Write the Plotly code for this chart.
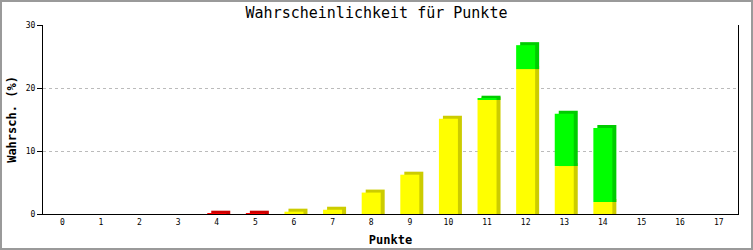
import plotly.graph_objects as go

categories = list(range(18))
tick_labels = [str(c) for c in categories]
yellow_vals = [0, 0, 0, 0, 0, 0, 0.37, 0.68, 3.4, 6.24, 15.1, 18.1, 23.0, 7.6, 1.9, 0, 0, 0]
green_vals = [0, 0, 0, 0, 0, 0, 0, 0, 0, 0, 0, 0.2, 3.8, 8.3, 11.75, 0, 0, 0]
red_vals = [0, 0, 0, 0, 0.05, 0.05, 0, 0, 0, 0, 0, 0, 0, 0, 0, 0, 0, 0]

W, H = 753, 250
ML, MR, MT, MB = 43, 15, 25, 36
pw = W - ML - MR
ph = H - MT - MB
xr = (-0.5, 17.5)
yr = (0, 30)
ux = pw / (xr[1] - xr[0])
uy = ph / (yr[1] - yr[0])
bw = 19 / ux
dx = 4 / ux
dy = 3 / uy

series = [
    ("Gelb", yellow_vals, "#ffff00", "#cccc00"),
    ("Grün", green_vals, "#00ff00", "#00cc00"),
    ("Rot", red_vals, "#ff0000", "#cc0000"),
]

fig = go.Figure()
base = [0.0] * len(categories)
bases = []
for name, vals, c, dc in series:
    bases.append(list(base))
    base = [b + v for b, v in zip(base, vals)]

# back (shaded) faces
for (name, vals, c, dc), bs in zip(series, bases):
    xs = [x for x, v in zip(categories, vals) if v > 0]
    ys = [v + dy for v in vals if v > 0]
    bb = [b for b, v in zip(bs, vals) if v > 0]
    fig.add_trace(go.Bar(x=xs, y=ys, base=bb, width=bw, offset=-bw / 2 + dx,
                         marker=dict(color=dc, line=dict(width=0)),
                         showlegend=False, hoverinfo="skip"))
# front faces
for (name, vals, c, dc), bs in zip(series, bases):
    xs = [x for x, v in zip(categories, vals) if v > 0]
    ys = [v for v in vals if v > 0]
    bb = [b for b, v in zip(bs, vals) if v > 0]
    fig.add_trace(go.Bar(x=xs, y=ys, base=bb, width=bw, offset=-bw / 2,
                         name=name, marker=dict(color=c, line=dict(width=0)),
                         showlegend=False))

mono = "DejaVu Sans Mono"
fig.update_layout(
    width=W, height=H, barmode="overlay",
    margin=dict(l=ML, r=MR, t=MT, b=MB, autoexpand=False),
    paper_bgcolor="white", plot_bgcolor="white",
    title=dict(text="Wahrscheinlichkeit für Punkte", x=0.5, xanchor="center",
               y=1 - 13 / H, yanchor="middle", yref="container",
               font=dict(family=mono, size=15, color="black")),
    xaxis=dict(range=list(xr), tickvals=categories, ticktext=tick_labels,
               automargin=False,
               showgrid=False, zeroline=False, showline=True, linecolor="black",
               linewidth=1, ticks="", tickfont=dict(family=mono, size=8, color="black"),
               title=dict(text="<b>Punkte</b>", standoff=10,
                          font=dict(family=mono, size=12, color="black"))),
    yaxis=dict(range=list(yr), tickvals=[0, 10, 20, 30], showgrid=True,
               automargin=False,
               gridcolor="#bbbbbb", griddash="dot", gridwidth=1, zeroline=False,
               showline=True, mirror=True, linecolor="black", linewidth=1,
               ticks="outside", ticklen=5, tickcolor="black",
               tickfont=dict(family=mono, size=8, color="black"),
               title=dict(text="<b>Wahrsch. (%)</b>", standoff=6,
                          font=dict(family=mono, size=12, color="black"))),
    shapes=[dict(type="rect", xref="paper", yref="paper",
                 x0=-(ML - 1) / pw, x1=1 + (MR - 1) / pw,
                 y0=-(MB - 1) / ph, y1=1 + (MT - 1) / ph,
                 line=dict(color="#9a9a9a", width=2), layer="below")],
)

fig.write_html("out.html")
